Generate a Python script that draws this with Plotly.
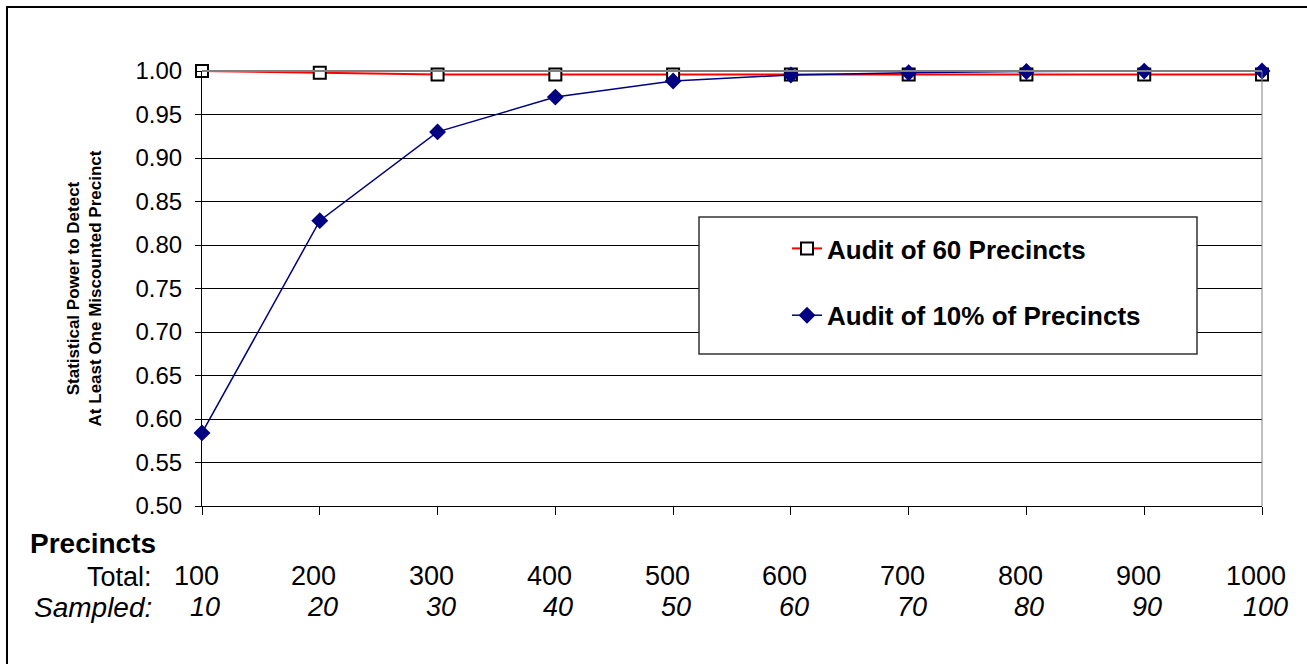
import plotly.graph_objects as go

# ---- data ----
total_precincts = [100, 200, 300, 400, 500, 600, 700, 800, 900, 1000]
sampled_precincts = [10, 20, 30, 40, 50, 60, 70, 80, 90, 100]
audit_60 = [1.000, 0.998, 0.996, 0.996, 0.996, 0.996, 0.996, 0.996, 0.996, 0.996]
audit_10pct = [0.584, 0.828, 0.930, 0.970, 0.9885, 0.9954, 0.998, 0.9994, 0.9999, 1.000]
y_ticks = [0.50, 0.55, 0.60, 0.65, 0.70, 0.75, 0.80, 0.85, 0.90, 0.95, 1.00]
series_names = ["Audit of 60 Precincts", "Audit of 10% of Precincts"]

FONT = "Liberation Sans, Arial, sans-serif"

fig = go.Figure()
fig.add_trace(go.Scatter(
    x=total_precincts, y=audit_60, name=series_names[0], mode="lines+markers",
    line=dict(color="#FF0000", width=2),
    marker=dict(symbol="square", size=12, color="white",
                line=dict(color="black", width=2)),
    cliponaxis=False, legendgroup="a"))
fig.add_trace(go.Scatter(
    x=total_precincts, y=audit_10pct, name=series_names[1], mode="lines+markers",
    line=dict(color="#000080", width=1.5),
    marker=dict(symbol="diamond", size=13, color="#000080"),
    cliponaxis=False, legendgroup="b"))

L, R, T, B = 202, 1262, 71, 506

annotations = []
for t, s in zip(total_precincts, sampled_precincts):
    annotations.append(dict(x=t, y=(B - 576) / (B - T), xref="x", yref="paper", text=str(t),
                            showarrow=False, xshift=-6, yanchor="middle",
                            font=dict(family=FONT, size=27, color="black")))
    annotations.append(dict(x=t, y=(B - 607) / (B - T), xref="x", yref="paper", text=f"<i>{s}</i>",
                            showarrow=False, xshift=3, yanchor="middle",
                            font=dict(family=FONT, size=27, color="black")))
labels_px = [
    ("<b>Precincts</b>", 158, 543, 28),
    ("Total:", 154, 577, 27),
    ("<i>Sampled:</i>", 154, 607, 28),
]
for text, px, py, fs in labels_px:
    annotations.append(dict(x=(px - L) / (R - L), y=(B - py) / (B - T), xref="paper", yref="paper",
                            text=text, showarrow=False, xanchor="right", yanchor="middle",
                            font=dict(family=FONT, size=fs, color="black")))

shapes = [
    # outer chart border
    dict(type="rect", xref="paper", yref="paper",
         x0=(7 - L) / (R - L), x1=1.2, y0=-0.6, y1=(B - 7) / (B - T),
         line=dict(color="black", width=2), layer="below"),
    # plot area border (top / right) in gray
    dict(type="line", xref="paper", yref="paper", x0=0, x1=1, y0=1, y1=1,
         line=dict(color="#808080", width=2)),
    dict(type="line", xref="paper", yref="paper", x0=1, x1=1, y0=0, y1=1,
         line=dict(color="#808080", width=1)),
    # legend box
    dict(type="rect", xref="paper", yref="paper",
         x0=(699 - L) / (R - L), x1=(1197 - L) / (R - L),
         y0=(B - 354) / (B - T), y1=(B - 217) / (B - T),
         line=dict(color="#333333", width=1.5), fillcolor="white", layer="above"),
]

fig.update_layout(
    width=1307, height=664,
    margin=dict(l=L, r=1307 - R, t=T, b=664 - B),
    paper_bgcolor="white", plot_bgcolor="white",
    font=dict(family=FONT, color="black"),
    xaxis=dict(range=[100, 1000], tickvals=total_precincts, showticklabels=False,
               ticks="outside", ticklen=8, tickcolor="black", showgrid=False,
               showline=True, linecolor="black", linewidth=1, zeroline=False),
    yaxis=dict(range=[0.5, 1.0], tickvals=y_ticks, tickformat=".2f",
               ticks="outside", ticklen=6, tickcolor="black",
               tickfont=dict(family=FONT, size=24, color="black"),
               ticklabelstandoff=8,
               showgrid=True, gridcolor="black", gridwidth=1,
               showline=True, linecolor="black", linewidth=1, zeroline=False,
               title=dict(text="<b>Statistical Power to Detect<br>At Least One Miscounted Precinct</b>",
                          font=dict(family=FONT, size=17, color="black"), standoff=29)),
    showlegend=True,
    legend=dict(x=(787 - L) / (R - L), y=(B - 225) / (B - T), xanchor="left", yanchor="top",
                bgcolor="rgba(0,0,0,0)", borderwidth=0, tracegroupgap=30,
                traceorder="grouped",
                font=dict(family=FONT, size=26, color="black", weight="bold")),
    annotations=annotations,
    shapes=shapes,
)

fig.write_html("out.html", config={"displayModeBar": False},
               post_script="document.body.style.margin='0';")
